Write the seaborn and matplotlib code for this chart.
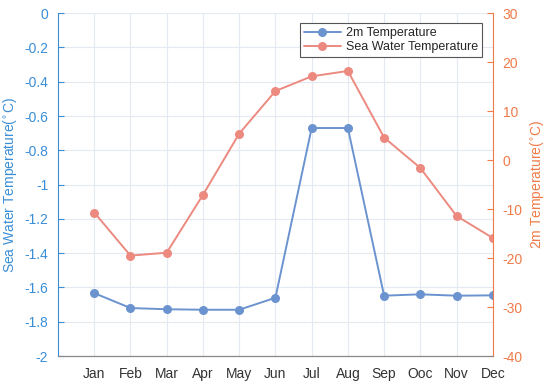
import seaborn as sns
import numpy as np
import matplotlib.pyplot as plt
from matplotlib.ticker import FuncFormatter

months = ['Jan', 'Feb', 'Mar', 'Apr', 'May', 'Jun', 'Jul', 'Aug', 'Sep', 'Ooc', 'Nov', 'Dec']
sea_water = [-1.633, -1.72, -1.727, -1.73, -1.73, -1.66, -0.67, -0.67, -1.648, -1.64, -1.648, -1.646]
temp_2m = [-10.7, -19.5, -18.9, -7.1, 5.4, 14.1, 17.1, 18.2, 4.6, -1.6, -11.4, -15.9]

blue_axis = '#3a8ed6'
orange_axis = '#f07a48'
blue_line = '#6b93cf'
orange_line = '#ec8a80'

sns.set_style('white')
plt.rcParams['font.family'] = ['Liberation Sans', 'DejaVu Sans']
plt.rcParams['axes.unicode_minus'] = False

fig = plt.figure(figsize=(5.5, 3.87), dpi=100)
ax = fig.add_axes([0.1055, 0.080, 0.7905, 0.886])
ax2 = ax.twinx()

x = np.arange(1, len(months) + 1)
sns.lineplot(x=x, y=sea_water, ax=ax, color=blue_line, marker='o', markersize=6.5,
             markeredgewidth=0, linewidth=1.4, label='2m Temperature', legend=False)
sns.lineplot(x=x, y=temp_2m, ax=ax2, color=orange_line, marker='o', markersize=6.5,
             markeredgewidth=0, linewidth=1.4, label='Sea Water Temperature', legend=False)


def fmt(v, p):
    v = round(v, 1)
    return '0' if v == 0 else '%g' % v


ax.set_xlim(0, 12)
ax.set_xticks(x)
ax.set_xticklabels(months)
ax.set_ylim(-2, 0)
ax.set_yticks(np.arange(-2, 0.01, 0.2))
ax.yaxis.set_major_formatter(FuncFormatter(fmt))
ax2.set_ylim(-40, 30)
ax2.set_yticks(np.arange(-40, 31, 10))

ax.grid(True, color='#e3eaf1', linewidth=0.8)
ax.set_axisbelow(True)

ax.set_ylabel('Sea Water Temperature($^{\\circ}$C)', color=blue_axis, fontsize=10, labelpad=4)
ax2.set_ylabel('2m Temperature($^{\\circ}$C)', color=orange_axis, fontsize=10, labelpad=4)

ax.tick_params(axis='y', direction='in', length=4, colors=blue_axis, labelsize=10, pad=7)
ax.tick_params(axis='x', direction='in', length=4, color='#777777', labelcolor='#333333',
               labelsize=10, pad=8)
ax2.tick_params(axis='y', direction='in', length=4, colors=orange_axis, labelsize=10, pad=7)

for a in (ax, ax2):
    a.spines['top'].set_visible(False)
    a.spines['left'].set_color(blue_axis)
    a.spines['right'].set_color(orange_axis)
    a.spines['bottom'].set_color('#888888')
ax.spines['right'].set_visible(False)
ax2.spines['left'].set_visible(False)

h1, l1 = ax.get_legend_handles_labels()
h2, l2 = ax2.get_legend_handles_labels()
leg = ax2.legend(h1 + h2, l1 + l2, loc='upper right', bbox_to_anchor=(0.975, 0.97),
                 fontsize=9, frameon=True, fancybox=False, framealpha=1,
                 edgecolor='#555555', borderpad=0.3, handlelength=3.0, handletextpad=0.4,
                 labelspacing=0.15, borderaxespad=0)
leg.get_frame().set_linewidth(0.8)

fig.savefig('out.png', dpi=100)
